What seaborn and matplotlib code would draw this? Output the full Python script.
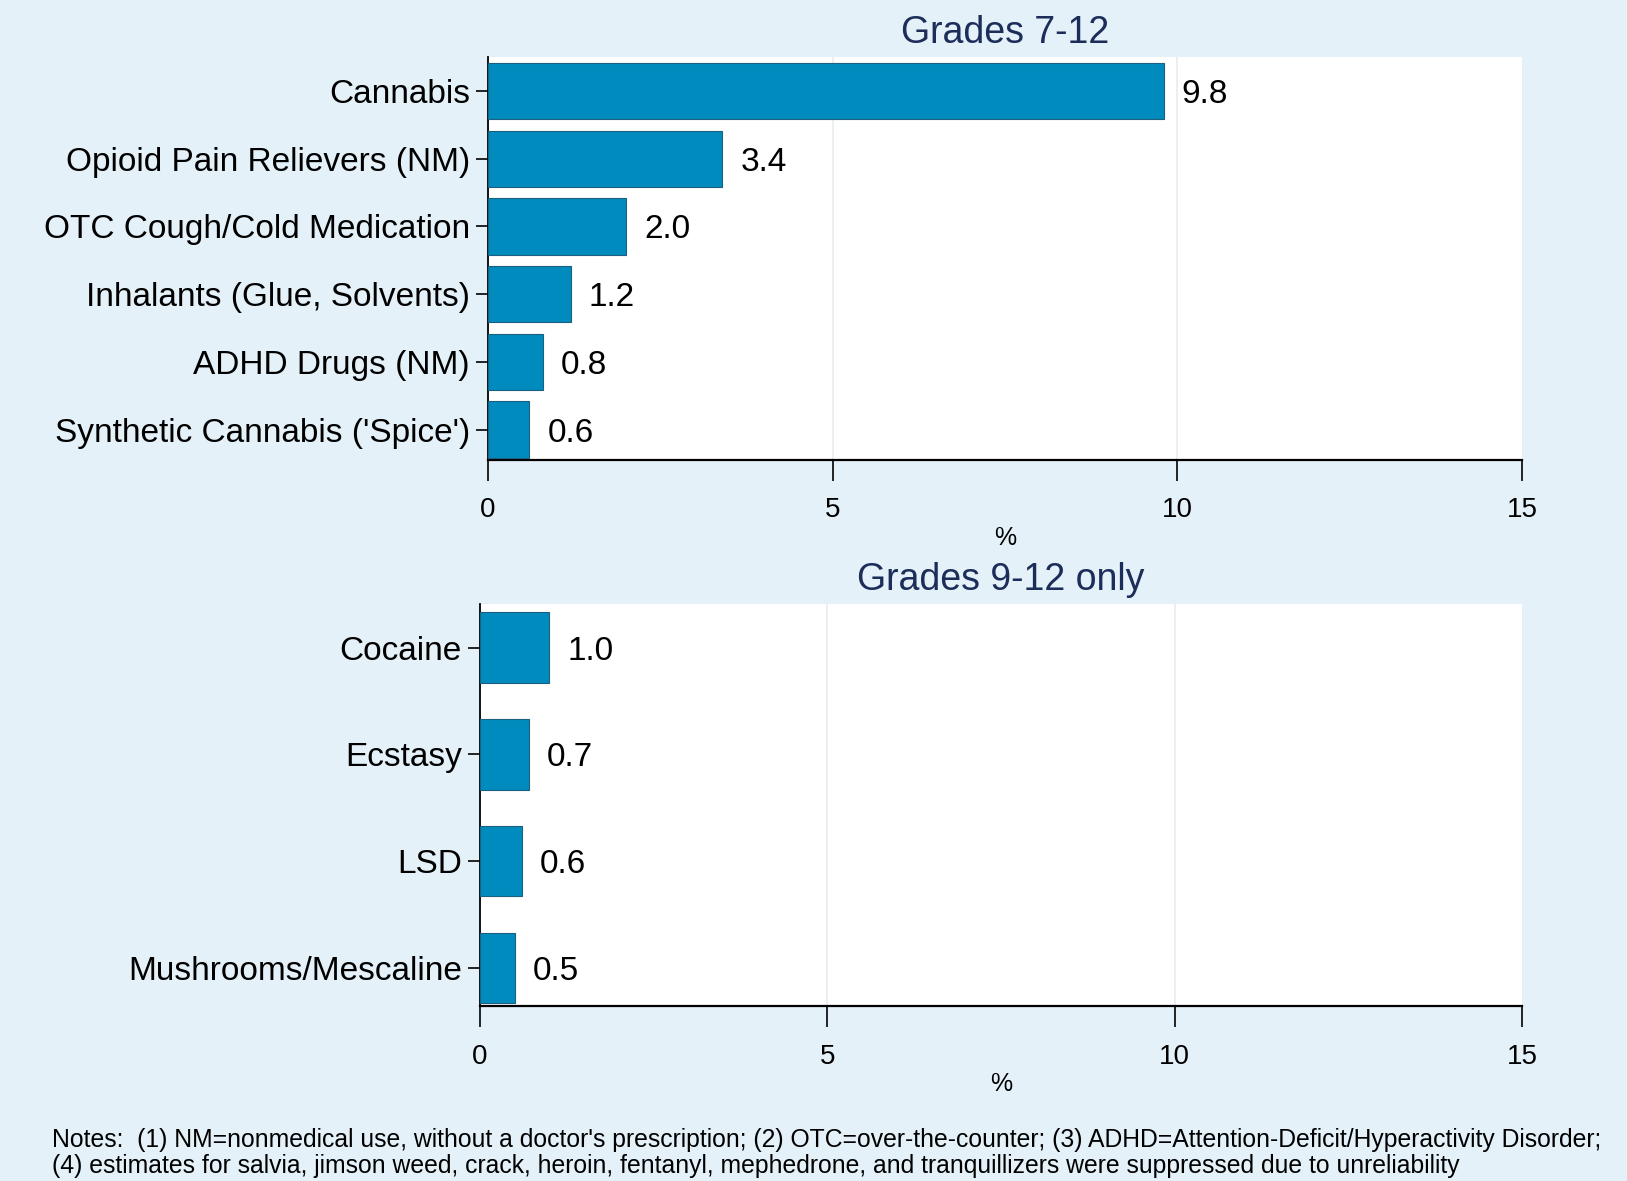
import numpy as np
import pandas as pd
import seaborn as sns
import matplotlib.pyplot as plt

#################
# Chart values  #
#################

top_drugs = ["Cannabis", "Opioid Pain Relievers (NM)", "OTC Cough/Cold Medication",
             "Inhalants (Glue, Solvents)", "ADHD Drugs (NM)", "Synthetic Cannabis ('Spice')"]
top_pct = [9.8, 3.4, 2.0, 1.2, 0.8, 0.6]

bottom_drugs = ["Cocaine", "Ecstasy", "LSD", "Mushrooms/Mescaline"]
bottom_pct = [1.0, 0.7, 0.6, 0.5]

x_ticks = [0, 5, 10, 15]

notes = ("Notes:  (1) NM=nonmedical use, without a doctor's prescription; (2) OTC=over-the-counter; "
         "(3) ADHD=Attention-Deficit/Hyperactivity Disorder;\n"
         "(4) estimates for salvia, jimson weed, crack, heroin, fentanyl, mephedrone, and tranquillizers "
         "were suppressed due to unreliability")

bg = "#e4f1f8"
bar_color = "#008bbe"
title_color = "#1c2d5a"

sns.set_theme(style="white")
plt.rcParams['font.family'] = ['Liberation Sans', 'DejaVu Sans']
plt.rcParams['text.color'] = 'black'
plt.rcParams['xtick.color'] = 'black'
plt.rcParams['ytick.color'] = 'black'
plt.rcParams['axes.labelcolor'] = 'black'

fig = plt.figure(figsize=(16.27, 11.81), dpi=100)
fig.patch.set_facecolor(bg)


def panel(rect, drugs, pct, width, ylim, title):
    ax = fig.add_axes(rect)
    df = pd.DataFrame({"drug": drugs, "pct": pct})
    sns.barplot(data=df, x="pct", y="drug", orient="h", color=bar_color, saturation=1,
                width=width, edgecolor="#1d5f7e", linewidth=0.8, ax=ax, zorder=3)
    ax.set_xlim(0, 15)
    ax.set_ylim(*ylim)
    ax.set_xticks(x_ticks)
    ax.set_xticklabels([str(t) for t in x_ticks])
    for t in x_ticks[1:3]:
        ax.axvline(t, color="#e6ecef", lw=1.2, zorder=0)
    for i, v in enumerate(pct):
        ax.text(v + 0.26, i, f"{v:.1f}", va="center_baseline", ha="left", fontsize=24, color="black")
    ax.set_ylabel("")
    ax.set_xlabel("%", fontsize=18, labelpad=2)
    ax.set_title(title, fontsize=27, color=title_color, pad=10)
    for s in ["top", "right"]:
        ax.spines[s].set_visible(False)
    ax.spines["left"].set_color("black")
    ax.spines["bottom"].set_color("black")
    ax.spines["left"].set_linewidth(1.3)
    ax.spines["bottom"].set_linewidth(1.6)
    ax.tick_params(axis="y", length=9, width=1.2, pad=4, labelsize=24, left=True)
    ax.tick_params(axis="x", length=15, width=1.2, pad=12, labelsize=20, bottom=True)
    ax.set_facecolor("white")
    return ax


ax1 = panel([0.300, 0.6105, 0.6355, 0.341], top_drugs, top_pct, 0.83, (5.45, -0.5), "Grades 7-12")
ax2 = panel([0.295, 0.148, 0.6405, 0.3406], bottom_drugs, bottom_pct, 0.66, (3.36, -0.41), "Grades 9-12 only")

fig.text(0.032, 0.024, notes, fontsize=17.8, va="center", ha="left", linespacing=1.1)

plt.savefig("out.png", dpi=100, facecolor=bg)
